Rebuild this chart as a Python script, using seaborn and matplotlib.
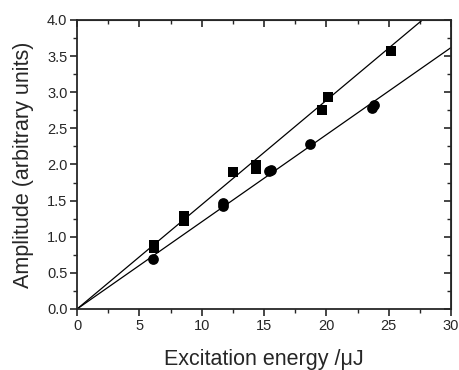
import numpy as np
import pandas as pd
import matplotlib
matplotlib.use("Agg")
import matplotlib.pyplot as plt
import seaborn as sns
from matplotlib.ticker import MultipleLocator

# squares
sq_x = [6.2, 6.2, 8.58, 8.58, 12.48, 14.33, 14.33, 19.62, 20.15, 25.18]
sq_y = [0.88, 0.84, 1.28, 1.22, 1.89, 1.99, 1.94, 2.75, 2.94, 3.575]
# circles
ci_x = [6.1, 11.71, 11.71, 15.4, 15.56, 18.68, 23.63, 23.84]
ci_y = [0.69, 1.46, 1.43, 1.91, 1.93, 2.28, 2.78, 2.82]
# fitted slopes (lines through origin)
slope_sq = 0.1444
slope_ci = 0.1206

sns.set_style("ticks")
plt.rcParams['font.family'] = ['Liberation Sans', 'DejaVu Sans']

fig = plt.figure(figsize=(4.59, 3.70), dpi=100)
ax = fig.add_axes([0.168, 0.165, 0.8146, 0.781])

xfit = np.array([0, 30])
fits = pd.DataFrame({"x": np.concatenate([xfit, xfit]),
                     "y": np.concatenate([slope_sq * xfit, slope_ci * xfit]),
                     "set": ["sq"] * 2 + ["ci"] * 2})
sns.lineplot(data=fits, x="x", y="y", units="set", estimator=None,
             color="black", lw=0.9, ax=ax)

sns.scatterplot(x=sq_x, y=sq_y, marker="s", color="black", s=55,
                edgecolor="black", linewidth=0, ax=ax, zorder=3)
sns.scatterplot(x=ci_x, y=ci_y, marker="o", color="black", s=60,
                edgecolor="black", linewidth=0, ax=ax, zorder=3)

ax.set_xlim(0, 30)
ax.set_ylim(0, 4.0)
ax.xaxis.set_major_locator(MultipleLocator(5))
ax.xaxis.set_minor_locator(MultipleLocator(2.5))
ax.yaxis.set_major_locator(MultipleLocator(0.5))
ax.yaxis.set_minor_locator(MultipleLocator(0.25))
ax.yaxis.set_major_formatter(matplotlib.ticker.FormatStrFormatter("%.1f"))

for s in ax.spines.values():
    s.set_visible(True)
    s.set_linewidth(1.3)
ax.tick_params(which="major", direction="out", length=5, width=1.2,
               labelsize=10.5, pad=2)
ax.tick_params(which="minor", direction="out", length=3, width=1.0)

top = ax.secondary_xaxis("top")
top.xaxis.set_major_locator(MultipleLocator(5))
top.xaxis.set_minor_locator(MultipleLocator(2.5))
top.tick_params(which="major", direction="in", length=5, width=1.2, labeltop=False)
top.tick_params(which="minor", direction="in", length=3, width=1.0)
right = ax.secondary_yaxis("right")
right.yaxis.set_major_locator(MultipleLocator(0.5))
right.yaxis.set_minor_locator(MultipleLocator(0.25))
right.tick_params(which="major", direction="in", length=5, width=1.2, labelright=False)
right.tick_params(which="minor", direction="in", length=3, width=1.0)

ax.set_xlabel("Excitation energy /\u03bcJ", fontsize=15.5, labelpad=12)
ax.set_ylabel("Amplitude (arbitrary units)", fontsize=15.5, labelpad=9)

fig.savefig("out.png", dpi=100)
